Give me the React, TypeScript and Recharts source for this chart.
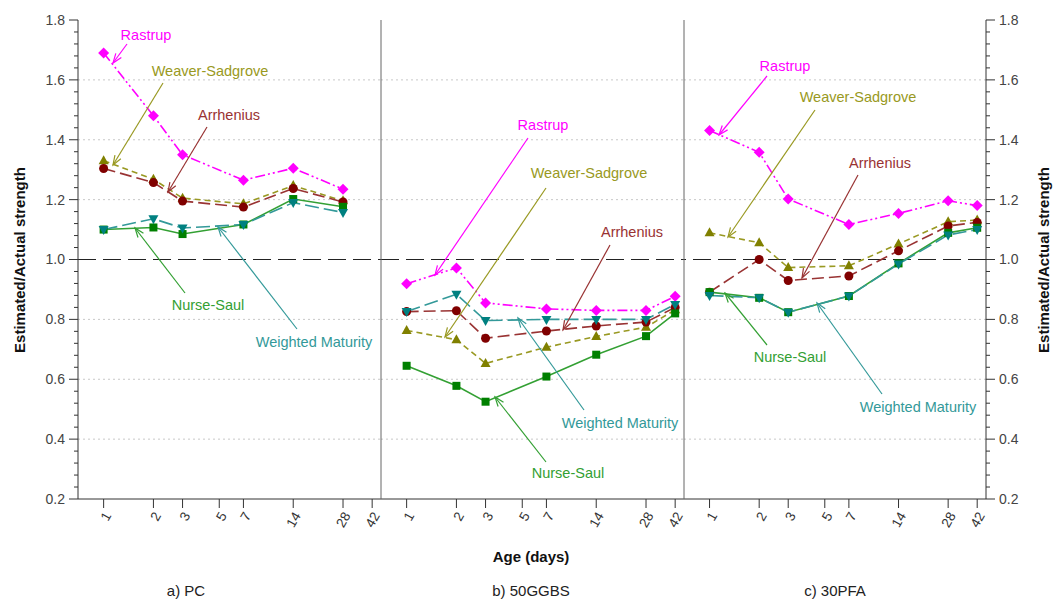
import React from "react";
import { LineChart, Line, XAxis, YAxis, ReferenceLine } from "recharts";

// age (days) at which strength was tested
const days = [1, 2, 3, 7, 14, 28, 42];
const xTicks = [1, 2, 3, 5, 7, 14, 28, 42];
const majorYTicks = [0.2, 0.4, 0.6, 0.8, 1.0, 1.2, 1.4, 1.6, 1.8];
const gridValues = [0.4, 0.6, 0.8, 1.2, 1.4, 1.6];

// a) PC (no 42-day result)
const rastrupPC = [1.69, 1.48, 1.35, 1.265, 1.305, 1.235];
const weaverPC = [1.33, 1.268, 1.205, 1.186, 1.247, 1.196];
const arrheniusPC = [1.304, 1.257, 1.195, 1.175, 1.237, 1.192];
const nurseSaulPC = [1.1, 1.107, 1.085, 1.117, 1.202, 1.176];
const weightedPC = [1.1, 1.136, 1.105, 1.117, 1.19, 1.157];

// b) 50GGBS
const rastrupGGBS = [0.919, 0.972, 0.855, 0.835, 0.83, 0.83, 0.877];
const weaverGGBS = [0.763, 0.732, 0.653, 0.707, 0.743, 0.774, 0.832];
const arrheniusGGBS = [0.826, 0.829, 0.737, 0.761, 0.778, 0.791, 0.84];
const nurseSaulGGBS = [0.645, 0.578, 0.525, 0.609, 0.682, 0.744, 0.82];
const weightedGGBS = [0.826, 0.884, 0.796, 0.8, 0.8, 0.8, 0.85];

// c) 30PFA
const rastrupPFA = [1.431, 1.358, 1.202, 1.117, 1.154, 1.196, 1.18];
const weaverPFA = [1.089, 1.056, 0.973, 0.979, 1.052, 1.126, 1.132];
const arrheniusPFA = [0.891, 1.0, 0.93, 0.945, 1.029, 1.112, 1.124];
const nurseSaulPFA = [0.891, 0.872, 0.824, 0.878, 0.987, 1.089, 1.106];
const weightedPFA = [0.88, 0.872, 0.824, 0.878, 0.985, 1.082, 1.1];

const C = {
    rastrup: "#ff00ff",
    weaver: "#999922",
    arrhenius: "#993333",
    nurse: "#33a033",
    weighted: "#339999",
};

const FONT = "'Liberation Sans', Arial, sans-serif";
const EXTRA = 14; // room on the right so rotated "42" is not clipped

// minor ticks every 0.04 between the labelled ones
const allYTicks: number[] = [];
majorYTicks.forEach((t, i) => {
    if (i === majorYTicks.length - 1) {
        allYTicks.push(t);
        return;
    }
    const step = (majorYTicks[i + 1] - t) / 5;
    for (let k = 0; k < 5; k++) allYTicks.push(Math.round((t + k * step) * 1000) / 1000);
});

const isMajor = (v: number) => majorYTicks.some((m) => Math.abs(m - v) < 1e-6);

function buildRows(r: number[], w: number[], a: number[], n: number[], wm: number[]) {
    return r.map((_, i) => ({
        day: days[i],
        rastrup: r[i],
        weaver: w[i],
        arrhenius: a[i],
        nurse: n[i],
        weighted: wm[i],
    }));
}

const panels = [
    { id: "a", left: 0, width: 381 + EXTRA, right: EXTRA, side: "left", yWidth: 78, data: buildRows(rastrupPC, weaverPC, arrheniusPC, nurseSaulPC, weightedPC) },
    { id: "b", left: 381, width: 303 + EXTRA, right: EXTRA, side: "none", yWidth: 0, data: buildRows(rastrupGGBS, weaverGGBS, arrheniusGGBS, nurseSaulGGBS, weightedGGBS) },
    { id: "c", left: 684, width: 378, right: 0, side: "right", yWidth: 76, data: buildRows(rastrupPFA, weaverPFA, arrheniusPFA, nurseSaulPFA, weightedPFA) },
];

function Marker({ cx, cy, shape, fill }: any) {
    if (cx == null || cy == null) return null;
    if (shape === "diamond")
        return <polygon points={`${cx},${cy - 5.5} ${cx + 5.5},${cy} ${cx},${cy + 5.5} ${cx - 5.5},${cy}`} fill={fill} />;
    if (shape === "up")
        return <polygon points={`${cx},${cy - 5.5} ${cx + 5},${cy + 3.5} ${cx - 5},${cy + 3.5}`} fill={fill} />;
    if (shape === "down")
        return <polygon points={`${cx},${cy + 5.5} ${cx + 5},${cy - 3.5} ${cx - 5},${cy - 3.5}`} fill={fill} />;
    if (shape === "square") return <rect x={cx - 4} y={cy - 4} width={8} height={8} fill={fill} />;
    return <circle cx={cx} cy={cy} r={4.5} fill={fill} />;
}

const series = [
    { key: "rastrup", color: C.rastrup, fill: "#ff00ff", dash: "10 3 2 3 2 3", shape: "diamond" },
    { key: "weaver", color: C.weaver, fill: "#808000", dash: "6 4", shape: "up" },
    { key: "arrhenius", color: C.arrhenius, fill: "#800000", dash: "12 5", shape: "circle" },
    { key: "nurse", color: C.nurse, fill: "#008000", dash: undefined, shape: "square" },
    { key: "weighted", color: C.weighted, fill: "#008080", dash: "14 5", shape: "down" },
];

const XTick = ({ x, y, payload }: any) => (
    <g transform={`translate(${x + 4},${y + 3})`}>
        <text transform="rotate(-60)" textAnchor="end" dy="0.35em" fontSize={13.5} fill="#333" fontFamily={FONT}>
            {payload.value}
        </text>
    </g>
);

const makeYTick = (side: string) => ({ x, y, payload }: any) => {
    const major = isMajor(payload.value);
    const len = major ? 9 : 4;
    const dir = side === "left" ? -1 : 1;
    return (
        <g>
            <line x1={x} x2={x + dir * len} y1={y} y2={y} stroke="#333" />
            {major && (
                <text x={x + dir * 13} y={y} dy="0.35em" textAnchor={side === "left" ? "end" : "start"} fontSize={14} fill="#444" fontFamily={FONT}>
                    {payload.value.toFixed(1)}
                </text>
            )}
        </g>
    );
};

// annotation labels with arrows (page coordinates)
const notes = [
    { t: "Rastrup", c: C.rastrup, x: 146, y: 35, from: [127, 44], to: [113, 63] },
    { t: "Weaver-Sadgrove", c: C.weaver, x: 210, y: 71, from: [163, 83], to: [113, 165] },
    { t: "Arrhenius", c: C.arrhenius, x: 229, y: 115, from: [207, 127], to: [168, 192] },
    { t: "Nurse-Saul", c: C.nurse, x: 208, y: 305, from: [185, 293], to: [135, 228] },
    { t: "Weighted Maturity", c: C.weighted, x: 314, y: 342, from: [297, 329], to: [218, 227] },

    { t: "Rastrup", c: C.rastrup, x: 543, y: 125, from: [528, 138], to: [435, 275] },
    { t: "Weaver-Sadgrove", c: C.weaver, x: 589, y: 173, from: [546, 188], to: [445, 337] },
    { t: "Arrhenius", c: C.arrhenius, x: 632, y: 232, from: [610, 245], to: [563, 330] },
    { t: "Weighted Maturity", c: C.weighted, x: 620, y: 423, from: [584, 410], to: [518, 318] },
    { t: "Nurse-Saul", c: C.nurse, x: 568, y: 473, from: [546, 462], to: [495, 397] },

    { t: "Rastrup", c: C.rastrup, x: 785, y: 66, from: [767, 76], to: [719, 135] },
    { t: "Weaver-Sadgrove", c: C.weaver, x: 858, y: 97, from: [815, 110], to: [728, 237] },
    { t: "Arrhenius", c: C.arrhenius, x: 880, y: 163, from: [858, 175], to: [802, 278] },
    { t: "Nurse-Saul", c: C.nurse, x: 790, y: 357, from: [767, 345], to: [725, 293] },
    { t: "Weighted Maturity", c: C.weighted, x: 918, y: 407, from: [882, 394], to: [817, 303] },
];

function Arrow({ from, to, color }: any) {
    const [x1, y1] = from;
    const [x2, y2] = to;
    const ang = Math.atan2(y1 - y2, x1 - x2);
    const L = 10;
    const a1 = ang + 0.35;
    const a2 = ang - 0.35;
    return (
        <g stroke={color} strokeWidth={1.2} fill="none">
            <line x1={x1} y1={y1} x2={x2} y2={y2} />
            <polyline points={`${x2 + L * Math.cos(a1)},${y2 + L * Math.sin(a1)} ${x2},${y2} ${x2 + L * Math.cos(a2)},${y2 + L * Math.sin(a2)}`} />
        </g>
    );
}

export default function App() {
    return (
        <div style={{ position: "absolute", left: 0, top: 0, width: 1062, height: 608, background: "#fff", fontFamily: FONT }}>
            {panels.map((p) => (
                <div key={p.id} style={{ position: "absolute", left: p.left, top: 0 }}>
                    <LineChart width={p.width} height={540} data={p.data} margin={{ top: 20, right: p.right, bottom: 0, left: 0 }}>
                        <XAxis
                            type="number"
                            dataKey="day"
                            scale="log"
                            domain={[0.7, 47.5]}
                            allowDataOverflow
                            ticks={xTicks}
                            interval={0}
                            height={41}
                            tickSize={9}
                            tickLine={{ stroke: "#333" }}
                            axisLine={{ stroke: "#333" }}
                            tick={<XTick />}
                        />
                        <YAxis
                            type="number"
                            domain={[0.2, 1.8]}
                            ticks={allYTicks}
                            interval={0}
                            hide={p.side === "none"}
                            orientation={p.side === "right" ? "right" : "left"}
                            width={p.yWidth}
                            tickSize={0}
                            tickMargin={0}
                            tickLine={false}
                            axisLine={{ stroke: "#333" }}
                            tick={makeYTick(p.side)}
                            allowDataOverflow
                        />
                        {gridValues.map((g) => (
                            <ReferenceLine key={g} y={g} stroke="#c8c8c8" strokeDasharray="2 3" />
                        ))}
                        <ReferenceLine y={1} stroke="#222" strokeWidth={1.2} strokeDasharray="18 7" />
                        {series.map((s) => (
                            <Line
                                key={s.key}
                                dataKey={s.key}
                                stroke={s.color}
                                strokeWidth={1.6}
                                strokeDasharray={s.dash}
                                isAnimationActive={false}
                                dot={(d: any) => <Marker key={`${s.key}-${d.index}`} cx={d.cx} cy={d.cy} shape={s.shape} fill={s.fill} />}
                                activeDot={false}
                            />
                        ))}
                    </LineChart>
                </div>
            ))}
            <svg width={1062} height={608} style={{ position: "absolute", left: 0, top: 0, pointerEvents: "none" }}>
                <line x1={381} x2={381} y1={20} y2={499} stroke="#666" />
                <line x1={684} x2={684} y1={20} y2={499} stroke="#666" />
                {notes.map((n, i) => (
                    <g key={i}>
                        <Arrow from={n.from} to={n.to} color={n.c} />
                        <text x={n.x} y={n.y} dy="0.35em" textAnchor="middle" fontSize={14.5} fill={n.c} fontFamily={FONT}>
                            {n.t}
                        </text>
                    </g>
                ))}
                <text transform="translate(20,260) rotate(-90)" textAnchor="middle" dy="0.35em" fontSize={15} fontWeight="bold" fill="#111" fontFamily={FONT}>
                    Estimated/Actual strength
                </text>
                <text transform="translate(1044,260) rotate(-90)" textAnchor="middle" dy="0.35em" fontSize={15} fontWeight="bold" fill="#111" fontFamily={FONT}>
                    Estimated/Actual strength
                </text>
                <text x={531} y={557} dy="0.35em" textAnchor="middle" fontSize={15} fontWeight="bold" fill="#111" fontFamily={FONT}>
                    Age (days)
                </text>
                <text x={186} y={591} dy="0.35em" textAnchor="middle" fontSize={15} fill="#222" fontFamily={FONT}>
                    a) PC
                </text>
                <text x={531} y={591} dy="0.35em" textAnchor="middle" fontSize={15} fill="#222" fontFamily={FONT}>
                    b) 50GGBS
                </text>
                <text x={835} y={591} dy="0.35em" textAnchor="middle" fontSize={15} fill="#222" fontFamily={FONT}>
                    c) 30PFA
                </text>
            </svg>
        </div>
    );
}
